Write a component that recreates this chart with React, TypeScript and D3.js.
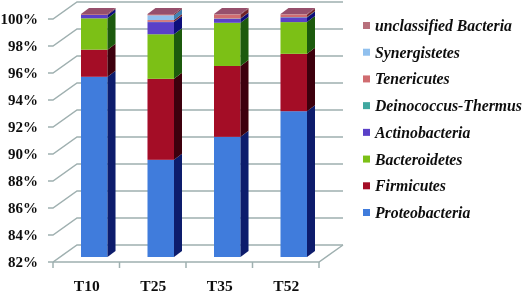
import React from "react";
import * as d3 from "d3";

const categories = ["T10", "T25", "T35", "T52"];
const seriesNames = ["Proteobacteria", "Firmicutes", "Bacteroidetes", "Actinobacteria", "Deinococcus-Thermus", "Tenericutes", "Synergistetes", "unclassified Bacteria"];
const proteobacteria = [95.35, 89.2, 90.9, 92.8];
const firmicutes = [2.01, 6.0, 5.25, 4.25];
const bacteroidetes = [2.32, 3.3, 3.2, 2.35];
const actinobacteria = [0.25, 0.9, 0.3, 0.35];
const deinococcus = [0.0, 0.02, 0.02, 0.02];
const tenericutes = [0.0, 0.13, 0.28, 0.18];
const synergistetes = [0.0, 0.35, 0.0, 0.0];
const unclassified = [0.07, 0.1, 0.05, 0.05];
const seriesValues = [proteobacteria, firmicutes, bacteroidetes, actinobacteria, deinococcus, tenericutes, synergistetes, unclassified];
const frontColors = ["#3f7cdc", "#a40c28", "#7cc014", "#5a40c8", "#3fa8a0", "#d06c70", "#90c0ee", "#b8707c"];
const sideColors = ["#0c1c6c", "#3c0408", "#1c5a0c", "#10107a", "#106060", "#702028", "#4080b0", "#702838"];
const yTicks = [82, 84, 86, 88, 90, 92, 94, 96, 98, 100];

const W = 524, H = 293;
const y = d3.scaleLinear().domain([82, 100]).range([262, 19]);
const x = d3.scaleBand().domain(categories).range([53, 319]);
const wallDx = 24, wallDy = -17;
const barDx = 8, barDy = -6;
const barShiftY = -5;
const barW = 26.5;
const grid = "#9fb0b0";
const legendY = d3.scalePoint().domain([...seriesNames].reverse()).range([26, 213]);
const serif = "'Liberation Serif', serif";

export default function App() {
  const stacks = categories.map((_, i) => {
    let acc = 0;
    return seriesValues.map((s, k) => {
      const start = Math.max(acc, 82);
      acc += s[i];
      return { k, start, end: acc };
    }).filter(d => d.end > d.start);
  });
  return (
    <svg width={W} height={H} style={{ position: "absolute", left: 0, top: 0, background: "#fff" }}>
      <defs><filter id="soft"><feGaussianBlur stdDeviation="0.35" /></filter></defs>
      <g filter="url(#soft)">
        {yTicks.map(t => (
          <g key={t} stroke={grid} strokeWidth={1.5} fill="none">
            <path d={`M48,${y(t)}H53L${53 + wallDx},${y(t) + wallDy}H${319 + wallDx}`} />
          </g>
        ))}
        <path d={`M53,262H319L${319 + wallDx},${262 + wallDy}`} stroke={grid} strokeWidth={1.5} fill="none" />
        {[53, ...categories.map(c => x(c)! + x.bandwidth())].map((px, i) => (
          <line key={i} x1={px} x2={px} y1={262} y2={268} stroke={grid} strokeWidth={1.5} />
        ))}
        {categories.map((c, i) => {
          const x0 = x(c)! + x.bandwidth() / 2 - barW / 2 + barDx;
          const x1 = x0 + barW;
          const top = y(100) + barShiftY;
          return (
            <g key={c}>
              {stacks[i].map(d => {
                const y0 = y(d.start) + barShiftY, y1 = y(d.end) + barShiftY;
                return (
                  <g key={d.k}>
                    <rect x={x0} y={y1} width={barW} height={y0 - y1} fill={frontColors[d.k]} />
                    <path d={`M${x1},${y0}L${x1 + barDx},${y0 + barDy}V${y1 + barDy}L${x1},${y1}Z`} fill={sideColors[d.k]} />
                  </g>
                );
              })}
              <path d={`M${x0},${top}L${x0 + barDx},${top + barDy}H${x1 + barDx}L${x1},${top}Z`} fill="#96506c" />
            </g>
          );
        })}
        {yTicks.map(t => (
          <text key={t} x={38} y={y(t) + 5} textAnchor="end" fontFamily={serif} fontWeight="bold" fontSize={15} fill="#111">{t}%</text>
        ))}
        {categories.map(c => (
          <text key={c} x={x(c)! + x.bandwidth() / 2 + 0.5} y={291} textAnchor="middle" fontFamily={serif} fontWeight="bold" fontSize={15.5} fill="#111">{c}</text>
        ))}
        {seriesNames.map((n, k) => (
          <g key={n}>
            <rect x={363} y={legendY(n)! - 4} width={7} height={7} fill={frontColors[k]} />
            <text x={375} y={legendY(n)! + 5} fontFamily={serif} fontWeight="bold" fontStyle="italic" fontSize={15.75} fill="#111">{n}</text>
          </g>
        ))}
      </g>
    </svg>
  );
}
